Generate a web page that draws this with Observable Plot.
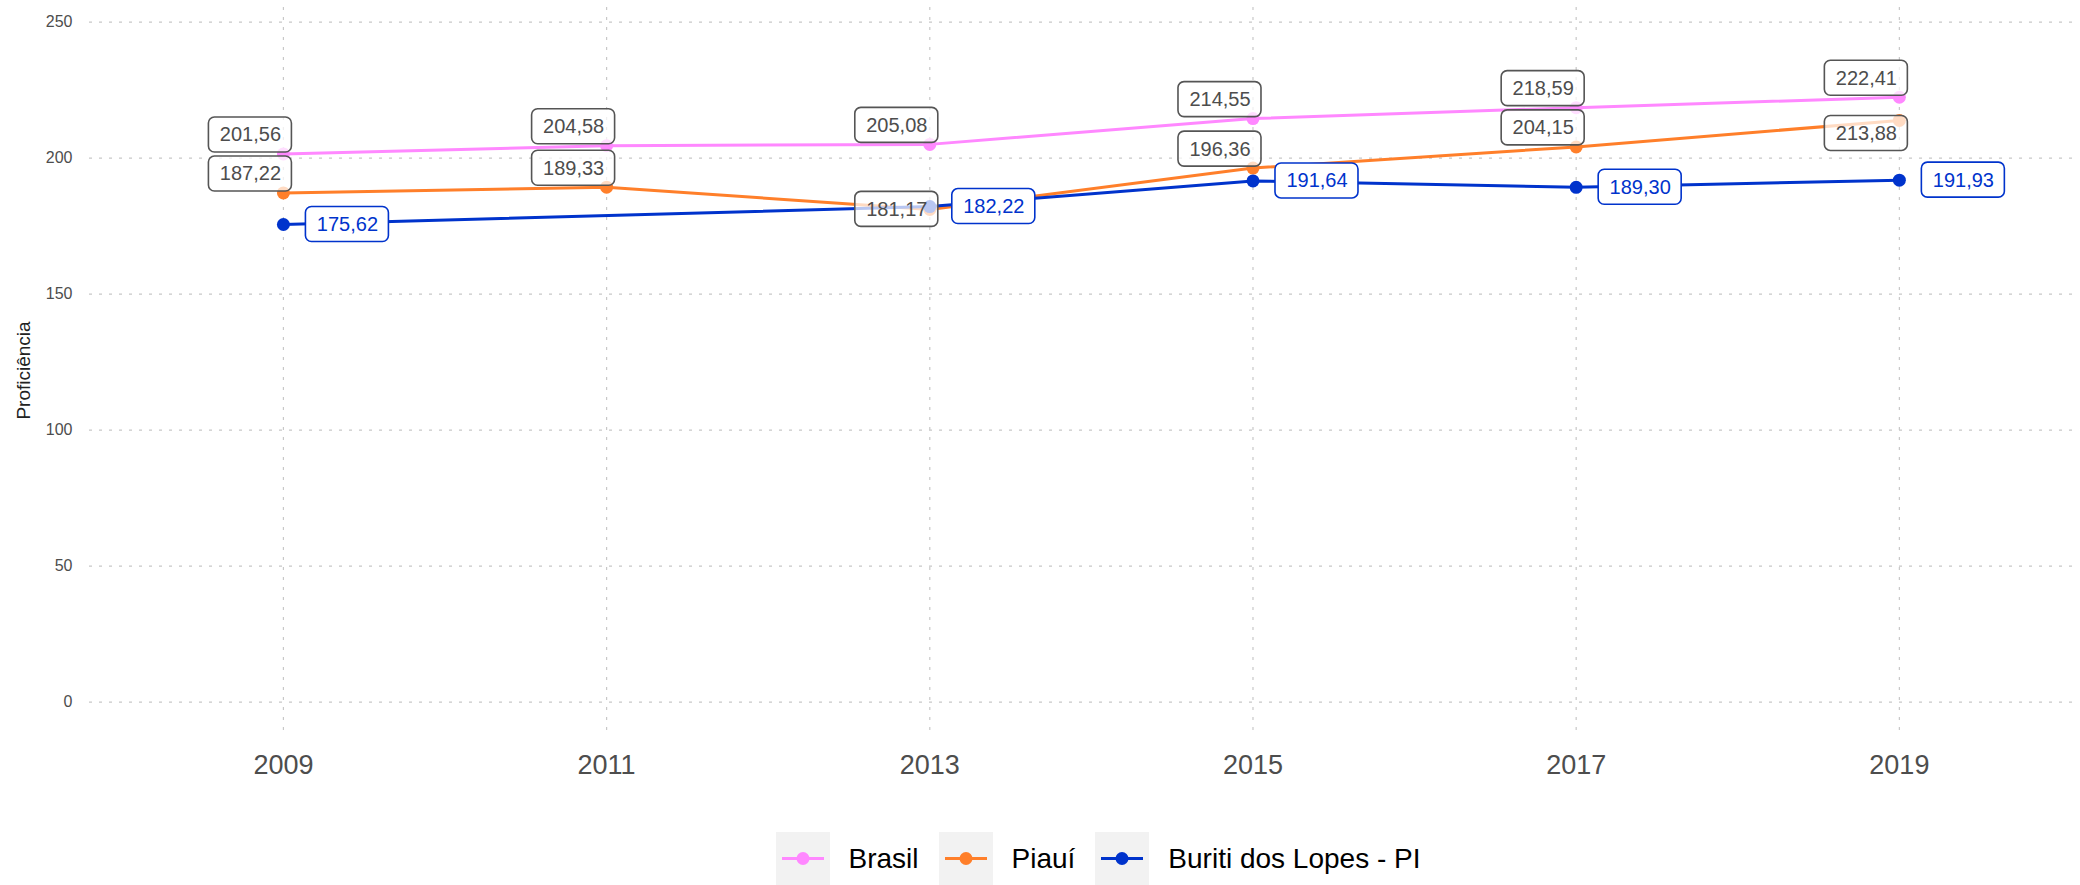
<!DOCTYPE html>
<html>
<head>
<meta charset="utf-8">
<script src="https://cdn.jsdelivr.net/npm/d3@7"></script>
<script src="https://cdn.jsdelivr.net/npm/@observablehq/plot@0.6"></script>
<style>
  html, body { margin: 0; padding: 0; background: #ffffff; }
  body { width: 2080px; height: 885px; overflow: hidden; font-family: "Liberation Sans", Arial, Helvetica, sans-serif; }
  #legend { display: flex; justify-content: center; align-items: center; height: 53px; padding-left: 136px; box-sizing: border-box; width: 2080px; }
  .item { display: flex; align-items: center; }
  .key { width: 54px; height: 53px; background: #f2f2f2; }
  .lab { font-size: 28px; color: #000; margin-left: 19px; margin-right: 20px; white-space: nowrap; }
</style>
</head>
<body>
<div id="chart"></div>
<div id="legend"></div>
<script>
// ---- data ----
const seriesNames = ["Brasil", "Piauí", "Buriti dos Lopes - PI"];
const seriesColors = ["#ff88ff", "#ff7f2a", "#0033cc"];
const years = [2009, 2011, 2013, 2015, 2017, 2019];
const brasil = [201.56, 204.58, 205.08, 214.55, 218.59, 222.41];
const piaui = [187.22, 189.33, 181.17, 196.36, 204.15, 213.88];
const buritiYears = [2009, 2013, 2015, 2017, 2019];
const buriti = [175.62, 182.22, 191.64, 189.30, 191.93];
const yTicks = [0, 50, 100, 150, 200, 250];
const yTitle = "Proficiência";

// ---- layout ----
const W = 2080, H = 832;
const mL = 89, mR = 5, mT = 7, mB = 99;
const xDomain = [2007.8, 2020.09];
const yDomain = [-11.5, 255.4];
const pxPerUnit = (H - mT - mB) / (yDomain[1] - yDomain[0]);

const rows = [];
years.forEach((yr, i) => rows.push({series: seriesNames[0], year: yr, value: brasil[i]}));
years.forEach((yr, i) => rows.push({series: seriesNames[1], year: yr, value: piaui[i]}));
buritiYears.forEach((yr, i) => rows.push({series: seriesNames[2], year: yr, value: buriti[i]}));

const fmt = v => v.toFixed(2).replace(".", ",");

// label placement (simple repel rule)
const boxH = 35;
rows.forEach(r => {
  if (r.series === seriesNames[0]) r.place = "above";
  else if (r.series === seriesNames[2]) r.place = "right";
  else {
    const b = rows.find(o => o.series === seriesNames[0] && o.year === r.year);
    const u = rows.find(o => o.series === seriesNames[2] && o.year === r.year);
    if (u && Math.abs(u.value - r.value) * pxPerUnit < 6) r.place = "left";
    else if (b && Math.abs(b.value - r.value) * pxPerUnit < boxH) r.place = "below";
    else r.place = "above";
  }
});

const offsets = {
  above: {dx: -33, dy: -19},
  left: {dx: -33, dy: 0},
  below: {dx: -33, dy: 13},
  right: {dx: 64, dy: 0}
};

const labelMarks = [];
for (const place of ["above", "left", "below", "right"]) {
  const sub = rows.filter(r => r.place === place);
  if (!sub.length) continue;
  const {dx, dy} = offsets[place];
  const isBlue = place === "right";
  labelMarks.push(Plot.rect(sub, {
    x1: "year", x2: "year", y1: "value", y2: "value",
    insetLeft: -41.5, insetRight: -41.5, insetTop: -17.5, insetBottom: -17.5,
    dx, dy, rx: 6,
    fill: "#ffffff", fillOpacity: isBlue ? 1 : 0.72,
    stroke: isBlue ? seriesColors[2] : "#555555", strokeWidth: 1.6
  }));
  labelMarks.push(Plot.text(sub, {
    x: "year", y: "value", text: d => fmt(d.value),
    dx, dy, fontSize: 20,
    fill: isBlue ? seriesColors[2] : "#4d4d4d"
  }));
}

const chart = Plot.plot({
  width: W, height: H,
  marginLeft: mL, marginRight: mR, marginTop: mT, marginBottom: mB,
  style: {fontFamily: '"Liberation Sans", Arial, Helvetica, sans-serif', background: "#ffffff"},
  x: {domain: xDomain},
  y: {domain: yDomain},
  color: {domain: seriesNames, range: seriesColors},
  marks: [
    Plot.gridY({ticks: yTicks, stroke: "#c8c8c8", strokeOpacity: 1, strokeWidth: 1.2, strokeDasharray: "3,7"}),
    Plot.gridX({ticks: years, stroke: "#c8c8c8", strokeOpacity: 1, strokeWidth: 1.2, strokeDasharray: "3,7"}),
    Plot.axisY({ticks: yTicks, tickSize: 0, tickPadding: 17, fontSize: 16, fill: "#4d4d4d", label: null}),
    Plot.axisX({ticks: years, tickFormat: d => String(d), tickSize: 0, tickPadding: 21, fontSize: 27, fill: "#4d4d4d", label: null}),
    Plot.text([yTitle], {frameAnchor: "left", textAnchor: "middle", dx: -66, rotate: -90, text: d => d, fontSize: 19, fill: "#222222"}),
    Plot.line(rows, {x: "year", y: "value", stroke: "series", z: "series", strokeWidth: 3}),
    Plot.dot(rows, {x: "year", y: "value", fill: "series", r: 6.5}),
    ...labelMarks
  ]
});
document.getElementById("chart").appendChild(chart);

// legend
const legend = document.getElementById("legend");
seriesNames.forEach((name, i) => {
  const item = document.createElement("div");
  item.className = "item";
  item.innerHTML = `<div class="key"><svg width="54" height="53"><line x1="6" x2="48" y1="26.5" y2="26.5" stroke="${seriesColors[i]}" stroke-width="3"/><circle cx="27" cy="26.5" r="6.5" fill="${seriesColors[i]}"/></svg></div><span class="lab">${name}</span>`;
  legend.appendChild(item);
});
</script>
</body>
</html>
